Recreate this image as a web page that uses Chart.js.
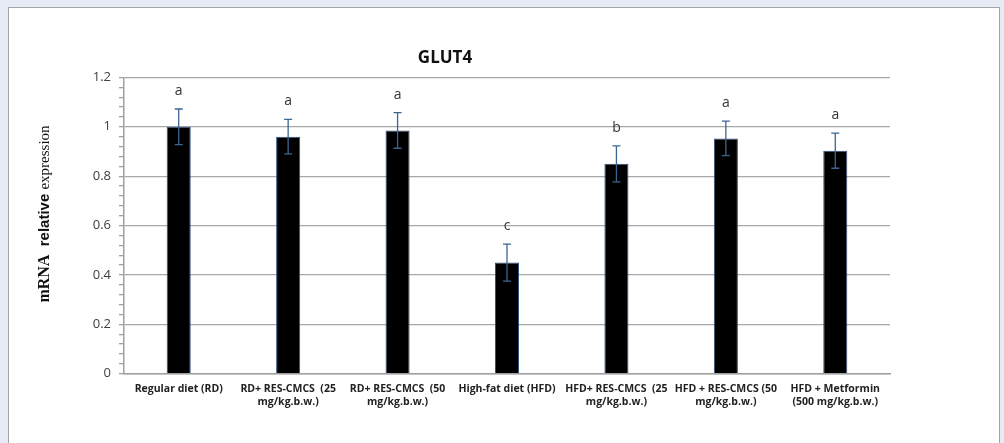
<!DOCTYPE html>
<html>
<head>
<meta charset="utf-8">
<script src="https://cdn.jsdelivr.net/npm/chart.js@4.4.1/dist/chart.umd.min.js"></script>
<style>
  html, body { margin: 0; padding: 0; background: #e7ebf6; overflow: hidden; }
  #panel { position: absolute; left: 8px; top: 7px; width: 990px; height: 460px;
           background: #fff; border: 1.5px solid #a3a3a3; }
  #wrap { position: absolute; left: 0; top: 0; width: 1004px; height: 443px; }
</style>
</head>
<body>
<div id="panel"></div>
<div id="wrap"><canvas id="glutChart" width="1004" height="443"></canvas></div>
<script>
const groups = [
    ['Regular diet (RD)'],
    ['RD+ RES-CMCS  (25', 'mg/kg.b.w.)'],
    ['RD+ RES-CMCS  (50', 'mg/kg.b.w.)'],
    ['High-fat diet (HFD)'],
    ['HFD+ RES-CMCS  (25', 'mg/kg.b.w.)'],
    ['HFD + RES-CMCS (50', 'mg/kg.b.w.)'],
    ['HFD + Metformin', '(500 mg/kg.b.w.)']
];
const expression = [1.0, 0.96, 0.985, 0.45, 0.85, 0.953, 0.903];
const errors = [0.072, 0.07, 0.072, 0.075, 0.073, 0.07, 0.071];
const letters = ['a', 'a', 'a', 'c', 'b', 'a', 'a'];
const yTicks = [0, 0.2, 0.4, 0.6, 0.8, 1, 1.2];

const isMajor = v => yTicks.some(t => Math.abs(t - v) < 1e-6);

// error bars + significance letters
const errorBars = {
    id: 'errorBars',
    afterDatasetsDraw(chart) {
        const { ctx, scales: { x, y } } = chart;
        ctx.save();
        expression.forEach((v, i) => {
            const cx = x.getPixelForValue(i);
            const top = y.getPixelForValue(v + errors[i]);
            const bot = y.getPixelForValue(v - errors[i]);
            ctx.strokeStyle = '#3d6592';
            ctx.lineWidth = 1.3;
            ctx.beginPath();
            ctx.moveTo(cx, top); ctx.lineTo(cx, bot);
            ctx.moveTo(cx - 4, top); ctx.lineTo(cx + 4, top);
            ctx.moveTo(cx - 4, bot); ctx.lineTo(cx + 4, bot);
            ctx.stroke();
            ctx.fillStyle = '#333';
            ctx.font = '14px "Open Sans", sans-serif';
            ctx.textAlign = 'center';
            ctx.textBaseline = 'middle';
            ctx.fillText(letters[i], cx, top - 18);
        });
        ctx.restore();
    }
};

// y axis title with mixed fonts
const yTitle = {
    id: 'yTitle',
    afterDraw(chart) {
        const { ctx } = chart;
        const parts = [
            ['mRNA', 'bold 16px "Liberation Serif", serif'],
            ['  relative ', 'bold 15px "Liberation Sans", sans-serif'],
            ['expression', '15px "Liberation Serif", serif']
        ];
        ctx.save();
        ctx.translate(45, 214);
        ctx.rotate(-Math.PI / 2);
        ctx.fillStyle = '#111';
        ctx.textBaseline = 'middle';
        ctx.textAlign = 'left';
        let total = 0;
        parts.forEach(([t, f]) => { ctx.font = f; total += ctx.measureText(t).width; });
        let px = -total / 2;
        parts.forEach(([t, f]) => {
            ctx.font = f;
            ctx.fillText(t, px, 0);
            px += ctx.measureText(t).width;
        });
        ctx.restore();
    }
};

const ctx = document.getElementById('glutChart');
const myChart = new Chart(ctx, {
    type: 'bar',
    data: {
        labels: groups,
        datasets: [{
            label: 'GLUT4',
            data: expression,
            backgroundColor: '#000000',
            borderColor: '#2f4f7f',
            borderWidth: 1,
            barPercentage: 0.22,
            categoryPercentage: 1
        }]
    },
    options: {
        responsive: false,
        animation: false,
        layout: { padding: { left: 0, right: 114, top: 0, bottom: 34 } },
        plugins: {
            legend: { display: false },
            tooltip: { enabled: false },
            title: {
                display: true,
                text: 'GLUT4',
                color: '#111',
                font: { family: '"Open Sans", sans-serif', size: 17, weight: 'bold' },
                padding: { top: 48, bottom: 9 }
            }
        },
        scales: {
            x: {
                grid: { display: false },
                border: { color: '#a0a0a0', width: 1.5 },
                ticks: {
                    color: '#222',
                    font: { family: '"Liberation Sans Narrow", "Open Sans", sans-serif', size: 10.5, weight: 'bold', lineHeight: 1.3 },
                    maxRotation: 0,
                    autoSkip: false,
                    padding: 0
                }
            },
            y: {
                min: 0,
                max: 1.2,
                afterFit(scale) { scale.width = 124; },
                border: { color: '#a0a0a0', width: 1.5 },
                grid: {
                    color: c => isMajor(c.tick.value) ? '#a8a8a8' : 'rgba(0,0,0,0)',
                    tickColor: '#a0a0a0',
                    tickLength: 5,
                    lineWidth: 1.3
                },
                ticks: {
                    stepSize: 0.04,
                    autoSkip: false,
                    color: '#404040',
                    padding: 8,
                    font: { family: '"Open Sans", sans-serif', size: 13 },
                    callback: v => isMajor(v) ? String(Math.round(v * 10) / 10) : ''
                }
            }
        }
    },
    plugins: [errorBars, yTitle]
});
</script>
</body>
</html>
